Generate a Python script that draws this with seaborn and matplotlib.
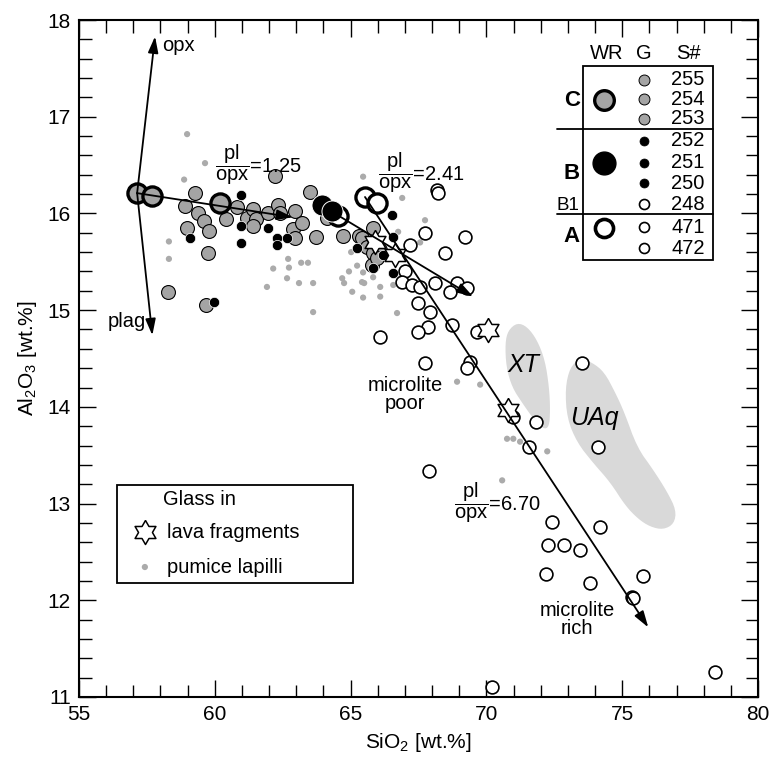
import numpy as np
import pandas as pd
import matplotlib
matplotlib.use("Agg")
import matplotlib.pyplot as plt
from matplotlib.patches import Rectangle
from matplotlib.ticker import MultipleLocator
import seaborn as sns

# ---- whole rock (WR) ----
wr_c_sio2 = [57.14, 57.69, 60.19]
wr_c_al2o3 = [16.21, 16.18, 16.11]
wr_b_sio2 = [63.95, 64.30]
wr_b_al2o3 = [16.09, 16.02]
wr_a_sio2 = [64.55, 65.53, 65.98]
wr_a_al2o3 = [15.97, 16.17, 16.11]

# ---- glass, group C (grey) ----
gc_sio2 = [59.27, 58.90, 59.38, 59.60, 58.98, 59.79, 59.75, 58.28, 59.68, 60.41,
           60.82, 61.19, 61.41, 61.52, 61.41, 61.96, 62.33, 62.40, 62.22, 62.96,
           62.88, 63.21, 62.96, 63.51, 63.73, 64.13, 64.72, 65.31, 65.42, 65.61,
           65.83, 65.79, 66.09, 65.83, 65.98]
gc_al2o3 = [16.21, 16.08, 16.00, 15.92, 15.85, 15.82, 15.59, 15.19, 15.05, 15.94,
            16.07, 15.95, 16.05, 15.94, 15.87, 16.00, 16.09, 16.00, 16.39, 16.02,
            15.84, 15.90, 15.75, 16.22, 15.76, 15.95, 15.77, 15.77, 15.75, 15.65,
            15.59, 15.47, 15.62, 15.85, 15.54]

# ---- glass, group B (black) ----
gb_sio2 = [60.97, 59.09, 60.97, 60.97, 61.96, 62.29, 62.29, 62.66, 59.97, 66.53,
           65.24, 65.83, 66.20, 66.57, 66.57]
gb_al2o3 = [16.19, 15.75, 15.87, 15.69, 15.85, 15.75, 15.67, 15.75, 15.08, 15.98,
            15.64, 15.44, 15.57, 15.76, 15.38]

# ---- glass, group A and 248 (open) ----
go_sio2 = [68.19, 68.22, 67.74, 69.22, 67.19, 68.48, 67.01, 66.90, 67.27, 67.56,
           68.11, 68.92, 69.29, 68.66, 67.49, 67.93, 68.74, 67.85, 67.49, 66.09,
           69.66, 69.40, 69.29, 67.74, 73.53, 71.83, 70.99, 71.57, 74.12, 67.89,
           72.42, 74.19, 72.27, 72.86, 73.45, 72.20, 73.82, 75.77, 75.37, 75.41,
           70.21, 78.43]
go_al2o3 = [16.24, 16.21, 15.80, 15.76, 15.67, 15.59, 15.40, 15.29, 15.26, 15.24,
            15.28, 15.28, 15.23, 15.19, 15.07, 14.98, 14.85, 14.83, 14.77, 14.72,
            14.77, 14.46, 14.40, 14.45, 14.45, 13.84, 13.89, 13.59, 13.58, 13.34,
            12.81, 12.76, 12.57, 12.57, 12.52, 12.27, 12.18, 12.25, 12.03, 12.02,
            11.10, 11.26]

# ---- glass in lava fragments ----
lava_sio2 = [65.90, 66.64, 70.06, 70.80]
lava_al2o3 = [15.70, 15.57, 14.79, 13.97]

# ---- glass in pumice lapilli ----
pum_sio2 = [58.98, 59.64, 58.87, 58.31, 58.31, 62.70, 62.15, 62.73, 63.18, 63.43,
            62.66, 61.92, 63.10, 63.62, 63.62, 64.69, 64.76, 64.94, 65.24, 65.02,
            65.46, 66.90, 65.46, 65.50, 66.09, 66.09, 66.71, 65.83, 65.06, 67.74,
            66.75, 67.56, 65.42, 66.57, 65.46, 68.92, 69.77, 70.76, 70.99, 71.24,
            72.24, 70.58]
pum_al2o3 = [16.82, 16.52, 16.35, 15.71, 15.53, 15.53, 15.43, 15.44, 15.49, 15.49,
             15.33, 15.24, 15.28, 15.28, 14.98, 15.33, 15.28, 15.40, 15.46, 15.60,
             16.38, 16.16, 15.39, 15.28, 15.24, 15.14, 14.97, 15.34, 15.19, 15.93,
             15.81, 15.70, 15.29, 15.26, 15.13, 14.26, 14.23, 13.67, 13.67, 13.64,
             13.54, 13.24]

# ---- fields of other units ----
xt_sio2 = [71.13, 70.80, 70.69, 70.73, 70.95, 71.32, 71.72, 72.09, 72.31, 72.35,
           72.31, 72.16, 71.87, 71.50]
xt_al2o3 = [14.87, 14.79, 14.66, 14.41, 14.20, 14.04, 13.88, 13.77, 13.79, 13.97,
            14.20, 14.48, 14.69, 14.83]
uaq_sio2 = [73.45, 73.89, 74.34, 74.74, 75.07, 75.55, 76.14, 76.66, 76.99, 76.91,
            76.51, 76.03, 75.59, 75.11, 74.56, 73.93, 73.34, 72.97, 72.90, 73.08]
uaq_al2o3 = [14.50, 14.46, 14.36, 14.15, 13.95, 13.58, 13.35, 13.12, 12.93, 12.79,
             12.73, 12.76, 12.84, 12.98, 13.22, 13.42, 13.63, 13.88, 14.19, 14.41]

# ---- fractionation vectors (start, end) ----
vec_opx = [(57.14, 16.21), (57.80, 17.83)]
vec_plag = [(57.14, 16.21), (57.70, 14.74)]
vec_125 = [(57.14, 16.21), (62.88, 15.96)]
vec_241 = [(64.30, 16.02), (69.51, 15.14)]
vec_670 = [(65.53, 16.17), (75.96, 11.72)]
ratio_labels = ["1.25", "2.41", "6.70"]
ratio_pos = [(60.00, 16.50), (66.02, 16.42), (68.80, 13.01)]

# ---- sample table ----
sample_ids = ["255", "254", "253", "252", "251", "250", "248", "471", "472"]
sample_grp = ["C", "C", "C", "B", "B", "B", "A", "A", "A"]

GREY = "#a4a4a4"
DOT = "#ababab"
FIELD = "#d9d9d9"
FS = 14.5

sns.set_style("ticks")
plt.rcParams["font.family"] = ["Liberation Sans", "DejaVu Sans"]
plt.rcParams["mathtext.fontset"] = "custom"
plt.rcParams["mathtext.rm"] = "Liberation Sans"
plt.rcParams["mathtext.it"] = "Liberation Sans:italic"
plt.rcParams["mathtext.bf"] = "Liberation Sans:bold"
plt.rcParams["text.color"] = "black"
plt.rcParams["axes.labelcolor"] = "black"

fig = plt.figure(figsize=(7.72, 7.57), dpi=100)
ax = fig.add_axes([79 / 772, 1 - 697 / 757, 679 / 772, 677 / 757])


def smooth(xs, ys, n=2):
    p = np.column_stack([xs, ys])
    for _ in range(n):
        q = np.roll(p, -1, axis=0)
        p = np.stack([0.75 * p + 0.25 * q, 0.25 * p + 0.75 * q], axis=1).reshape(-1, 2)
    return p[:, 0], p[:, 1]


for xs, ys in [(xt_sio2, xt_al2o3), (uaq_sio2, uaq_al2o3)]:
    sx, sy = smooth(xs, ys)
    ax.fill(sx, sy, color=FIELD, lw=0, zorder=1)
ax.text(71.35, 14.43, "XT", style="italic", fontsize=18, ha="center", va="center", zorder=2)
ax.text(73.97, 13.88, "UAq", style="italic", fontsize=18, ha="center", va="center", zorder=2)

# six-pointed open star
hexagram = []
for k in range(13):
    r = 1.0 if k % 2 == 0 else 0.577
    a = np.pi / 2 + k * np.pi / 6
    hexagram.append((r * np.cos(a), r * np.sin(a)))

pum = pd.DataFrame({"SiO2": pum_sio2, "Al2O3": pum_al2o3})
sns.scatterplot(data=pum, x="SiO2", y="Al2O3", ax=ax, s=20, color=DOT,
                edgecolor="none", zorder=2)

gc = pd.DataFrame({"SiO2": gc_sio2, "Al2O3": gc_al2o3})
sns.scatterplot(data=gc, x="SiO2", y="Al2O3", ax=ax, s=100, color=GREY,
                edgecolor="black", linewidth=0.8, zorder=3)
gb = pd.DataFrame({"SiO2": gb_sio2, "Al2O3": gb_al2o3})
sns.scatterplot(data=gb, x="SiO2", y="Al2O3", ax=ax, s=55, color="black",
                edgecolor="white", linewidth=0.5, zorder=3)
go = pd.DataFrame({"SiO2": go_sio2, "Al2O3": go_al2o3})
sns.scatterplot(data=go, x="SiO2", y="Al2O3", ax=ax, s=85, color="white",
                edgecolor="black", linewidth=1.2, zorder=3)

wa = pd.DataFrame({"SiO2": wr_a_sio2, "Al2O3": wr_a_al2o3})
sns.scatterplot(data=wa, x="SiO2", y="Al2O3", ax=ax, s=190, color="white",
                edgecolor="black", linewidth=2.4, zorder=4)
wb = pd.DataFrame({"SiO2": wr_b_sio2, "Al2O3": wr_b_al2o3})
sns.scatterplot(data=wb, x="SiO2", y="Al2O3", ax=ax, s=230, color="black",
                edgecolor="white", linewidth=0.7, zorder=4)
wc = pd.DataFrame({"SiO2": wr_c_sio2, "Al2O3": wr_c_al2o3})
sns.scatterplot(data=wc, x="SiO2", y="Al2O3", ax=ax, s=190, color=GREY,
                edgecolor="black", linewidth=2.4, zorder=4)

lv = pd.DataFrame({"SiO2": lava_sio2, "Al2O3": lava_al2o3})
sns.scatterplot(data=lv, x="SiO2", y="Al2O3", ax=ax, s=300, marker=hexagram,
                color="white", edgecolor="black", linewidth=1.1, zorder=4)

arrow = dict(arrowstyle="-|>,head_width=0.22,head_length=0.7", color="black",
             lw=1.3, mutation_scale=14, shrinkA=0, shrinkB=0)
for (x0, y0), (x1, y1) in [vec_opx, vec_plag, vec_125, vec_241, vec_670]:
    ax.annotate("", xy=(x1, y1), xytext=(x0, y0), arrowprops=arrow, zorder=6)

ax.text(58.05, 17.74, "opx", fontsize=FS, ha="left", va="center")
ax.text(57.45, 14.88, "plag", fontsize=FS, ha="right", va="center")
for lab, (x, y) in zip(ratio_labels, ratio_pos):
    ax.text(x, y, r"$\dfrac{\mathrm{pl}}{\mathrm{opx}}$=" + lab, fontsize=FS,
            ha="left", va="center", zorder=7)
ax.text(67.0, 14.13, "microlite\npoor", fontsize=FS, ha="center", va="center",
        linespacing=0.95)
ax.text(73.34, 11.80, "microlite\nrich", fontsize=FS, ha="center", va="center",
        linespacing=0.95)

# ---- legend, lower left ----
ax.add_patch(Rectangle((0.056, 0.168), 0.348, 0.145, transform=ax.transAxes,
                       fill=False, lw=1.3, ec="black", zorder=8))
ax.text(0.124, 0.291, "Glass in", transform=ax.transAxes, fontsize=FS, va="center")
ax.scatter([0.097], [0.2437], transform=ax.transAxes, s=300, marker=hexagram,
           c="white", edgecolors="black", linewidths=1.1, zorder=9)
ax.text(0.1296, 0.2437, "lava fragments", transform=ax.transAxes, fontsize=FS, va="center")
ax.scatter([0.097], [0.192], transform=ax.transAxes, s=20, c=DOT, edgecolors="none", zorder=9)
ax.text(0.1296, 0.192, "pumice lapilli", transform=ax.transAxes, fontsize=FS, va="center")

# ---- sample table, upper right ----
ax.add_patch(Rectangle((0.742, 0.6455), 0.192, 0.2865, transform=ax.transAxes,
                       fill=False, lw=1.3, ec="black", zorder=8, clip_on=False))
for yy in [0.839, 0.7134]:
    ax.plot([0.704, 0.934], [yy, yy], transform=ax.transAxes, color="black", lw=1.3,
            zorder=8, clip_on=False)
for lab, xx in [("WR", 0.7776), ("G", 0.832), ("S#", 0.897)]:
    ax.text(xx, 0.951, lab, transform=ax.transAxes, fontsize=FS, ha="center", va="center")
row_y = [0.9114, 0.8833, 0.8538, 0.8213, 0.7888, 0.7592, 0.7282, 0.6942, 0.6632]
g_style = {"C": dict(s=62, c=GREY, edgecolors="black", linewidths=0.7),
           "B": dict(s=42, c="black", edgecolors="black", linewidths=0.5),
           "A": dict(s=52, c="white", edgecolors="black", linewidths=1.2)}
for sid, grp, yy in zip(sample_ids, sample_grp, row_y):
    ax.scatter([0.832], [yy], transform=ax.transAxes, zorder=9, **g_style[grp])
    ax.text(0.897, yy, sid, transform=ax.transAxes, fontsize=FS, ha="center", va="center")
ax.scatter([0.773], [0.8818], transform=ax.transAxes, s=200, c=GREY,
           edgecolors="black", linewidths=2.4, zorder=9)
ax.scatter([0.773], [0.7888], transform=ax.transAxes, s=270, c="black",
           edgecolors="black", zorder=9)
ax.scatter([0.773], [0.6928], transform=ax.transAxes, s=170, c="white",
           edgecolors="black", linewidths=2.6, zorder=9)
for lab, yy in [("C", 0.8818), ("B", 0.774), ("A", 0.6795)]:
    ax.text(0.7375, yy, lab, transform=ax.transAxes, fontsize=16, fontweight="bold",
            ha="right", va="center")
ax.text(0.7375, 0.7267, "B1", transform=ax.transAxes, fontsize=13.5, ha="right", va="center")

# ---- axes ----
ax.set_xlim(55, 80)
ax.set_ylim(11, 18)
ax.set_xticks(range(55, 81, 5))
ax.set_yticks(range(11, 19))
ax.xaxis.set_minor_locator(MultipleLocator(1))
ax.yaxis.set_minor_locator(MultipleLocator(0.2))
ax.tick_params(which="both", direction="in", top=True, right=True, width=1.0,
               labelsize=15, pad=6, colors="black")
ax.tick_params(which="major", length=12.5)
ax.tick_params(which="minor", length=9)
for sp in ax.spines.values():
    sp.set_linewidth(1.5)
    sp.set_color("black")
ax.set_xlabel(r"SiO$_2$ [wt.%]", fontsize=15, labelpad=5)
ax.set_ylabel(r"Al$_2$O$_3$ [wt.%]", fontsize=15, labelpad=6)

fig.savefig("out.png", dpi=100)
